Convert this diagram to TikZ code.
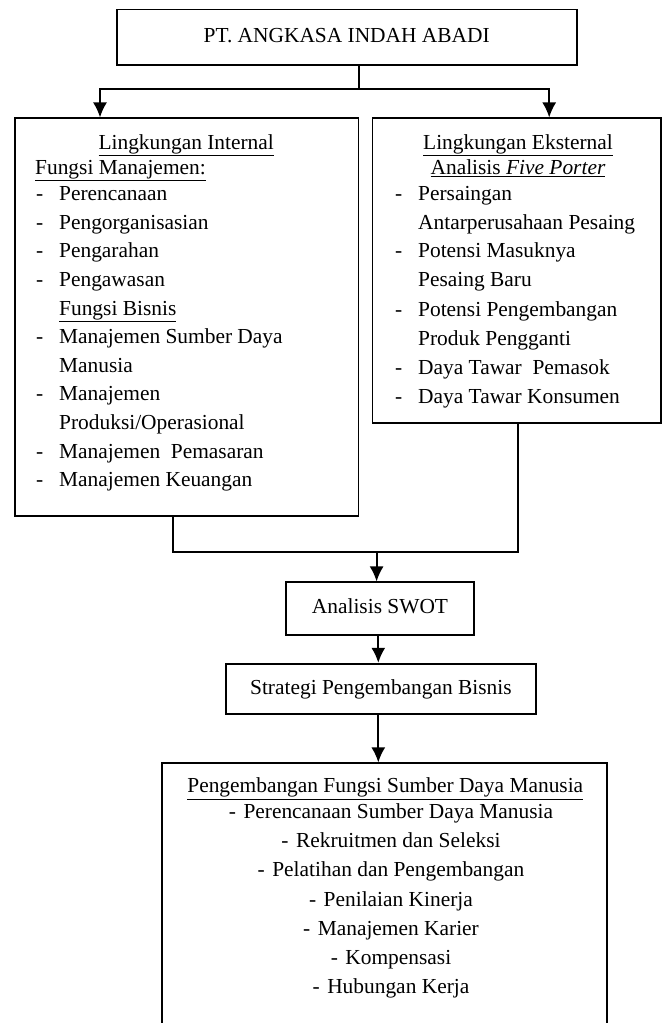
\documentclass[tikz,border=0pt]{standalone}
\usepackage{fontspec}
\setmainfont{Liberation Serif}
\usetikzlibrary{arrows.meta}
\pgfdeclarelayer{edgelayer}
\pgfdeclarelayer{nodelayer}
\pgfsetlayers{edgelayer,nodelayer,main}
\tikzstyle{box}=[rectangle,fill=white,draw=black,line width=1.8pt,inner sep=0pt,text height=15pt,text depth=4.5pt]
\tikzstyle{item}=[anchor=base west,inner sep=0pt]
\tikzstyle{centre_item}=[anchor=base,inner sep=0pt]
\tikzstyle{transition}=[-{Latex[length=15pt,width=14pt]},draw=black,line width=1.8pt]
\tikzstyle{link}=[draw=black,line width=1.8pt]
\newcommand{\dashitem}[1]{\makebox[23pt][l]{-}#1}
\newcommand{\centreitem}[1]{-\hspace{0.35em}#1}

\begin{document}
\begin{tikzpicture}[x=1pt,y=-1pt,font=\fontsize{21.4}{29}\selectfont]
	\useasboundingbox (0,0) rectangle (664,1023);
	\begin{pgfonlayer}{nodelayer}
		\node [style=box, minimum width=460, minimum height=55.5] (0) at (346.7, 37.3) {PT. ANGKASA INDAH ABADI};
		\node [style=box, minimum width=343.6, minimum height=397.7] (1) at (186.6, 317.2) {};
		\node [style=box, minimum width=288.6, minimum height=304.5] (2) at (516.7, 270.6) {};
		\node [style=box, minimum width=188, minimum height=52.7] (3) at (380, 608.7) {Analisis SWOT};
		\node [style=box, minimum width=310.3, minimum height=50.6] (4) at (380.9, 689) {Strategi Pengembangan Bisnis};
		\node [style=box, minimum width=445, minimum height=277.4] (5) at (384.2, 902) {};
		% internal
		\node [style=centre_item] (10) at (186.2, 149) {\underline{Lingkungan Internal}};
		\node [style=item] (11) at (35, 174.5) {\underline{Fungsi Manajemen:}};
		\node [style=item] (12) at (36, 200.7) {\dashitem{Perencanaan}};
		\node [style=item] (13) at (36, 229.3) {\dashitem{Pengorganisasian}};
		\node [style=item] (14) at (36, 257.9) {\dashitem{Pengarahan}};
		\node [style=item] (15) at (36, 286.5) {\dashitem{Pengawasan}};
		\node [style=item] (16) at (59, 315.1) {\underline{Fungsi Bisnis}};
		\node [style=item] (17) at (36, 343.7) {\dashitem{Manajemen Sumber Daya}};
		\node [style=item] (18) at (59, 372.3) {Manusia};
		\node [style=item] (19) at (36, 400.9) {\dashitem{Manajemen}};
		\node [style=item] (20) at (59, 429.5) {Produksi/Operasional};
		\node [style=item] (21) at (36, 458.1) {\dashitem{Manajemen\ \ Pemasaran}};
		\node [style=item] (22) at (36, 486.7) {\dashitem{Manajemen Keuangan}};
		% external
		\node [style=centre_item] (30) at (518, 149) {\underline{Lingkungan Eksternal}};
		\node [style=centre_item] (31) at (518, 174.5) {\underline{Analisis \textit{Five Porter}}};
		\node [style=item] (32) at (395, 200.7) {\dashitem{Persaingan}};
		\node [style=item] (33) at (418, 229.3) {Antarperusahaan Pesaing};
		\node [style=item] (34) at (395, 257.9) {\dashitem{Potensi Masuknya}};
		\node [style=item] (35) at (418, 286.5) {Pesaing Baru};
		\node [style=item] (36) at (395, 316) {\dashitem{Potensi Pengembangan}};
		\node [style=item] (37) at (418, 345) {Produk Pengganti};
		\node [style=item] (38) at (395, 374.3) {\dashitem{Daya Tawar\ \ Pemasok}};
		\node [style=item] (39) at (395, 403.3) {\dashitem{Daya Tawar Konsumen}};
		% sdm
		\node [style=centre_item] (40) at (385.3, 792.7) {\underline{Pengembangan Fungsi Sumber Daya Manusia}};
		\node [style=centre_item] (41) at (391, 818.7) {\centreitem{Perencanaan Sumber Daya Manusia}};
		\node [style=centre_item] (42) at (391, 847.7) {\centreitem{Rekruitmen dan Seleksi}};
		\node [style=centre_item] (43) at (391, 876.7) {\centreitem{Pelatihan dan Pengembangan}};
		\node [style=centre_item] (44) at (391, 906) {\centreitem{Penilaian Kinerja}};
		\node [style=centre_item] (45) at (391, 935.3) {\centreitem{Manajemen Karier}};
		\node [style=centre_item] (46) at (391, 964.3) {\centreitem{Kompensasi}};
		\node [style=centre_item] (47) at (391, 993.3) {\centreitem{Hubungan Kerja}};
	\end{pgfonlayer}
	\coordinate (j0) at (358.8, 88.7);
	\coordinate (a1) at (100, 0);
	\coordinate (a2) at (549.2, 0);
	\coordinate (b1) at (172.6, 0);
	\coordinate (b2) at (518.2, 0);
	\coordinate (j1) at (376.6, 551.7);
	\coordinate (j2) at (378.3, 0);
	\begin{pgfonlayer}{edgelayer}
		\draw [style=link] (j0 |- 0.south) to (j0);
		\draw [style=transition] (j0) -| (a1 |- 1.north);
		\draw [style=transition] (j0) -| (a2 |- 2.north);
		\draw [style=link] (b1 |- 1.south) |- (b2 |- j1) -- (b2 |- 2.south);
		\draw [style=transition] (j1) to (j1 |- 3.north);
		\draw [style=transition] (j2 |- 3.south) to (j2 |- 4.north);
		\draw [style=transition] (j2 |- 4.south) to (j2 |- 5.north);
	\end{pgfonlayer}
\end{tikzpicture}
\end{document}
